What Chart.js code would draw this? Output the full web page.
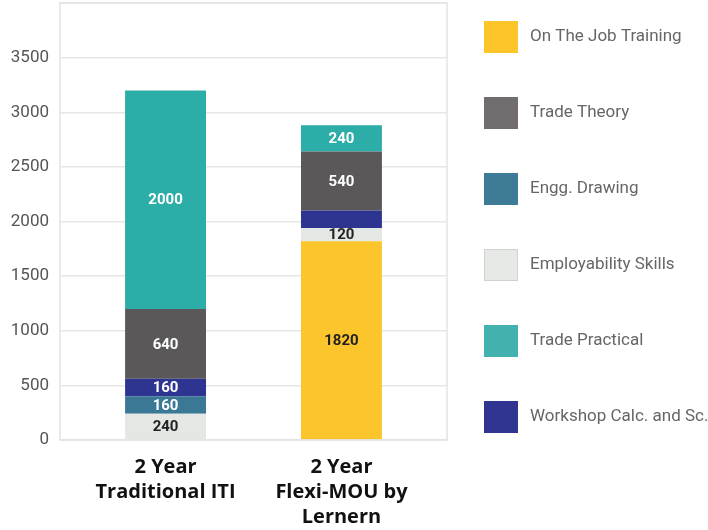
<!DOCTYPE html>
<html>
<head>
<meta charset="utf-8">
<script src="https://cdn.jsdelivr.net/npm/chart.js@4/dist/chart.umd.min.js"></script>
<style>
  html, body { margin: 0; padding: 0; background: #fff; }
  #wrap { position: relative; width: 708px; height: 530px; }
</style>
</head>
<body>
<div id="wrap"><canvas id="chart" width="708" height="530"></canvas></div>
<script>
/* Stacked hours chart */
const categories = [['2 Year', 'Traditional ITI'], ['2 Year', 'Flexi-MOU by', 'Lernern']];
const xPositions = [0, 1];

const onTheJob = [0, 1820];
const employability = [240, 120];
const enggDrawing = [160, 0];
const workshopCalc = [160, 160];
const tradeTheory = [640, 540];
const tradePractical = [2000, 240];

const yTicks = [0, 500, 1000, 1500, 2000, 2500, 3000, 3500];
const legendOrder = ['On The Job Training', 'Trade Theory', 'Engg. Drawing', 'Employability Skills', 'Trade Practical', 'Workshop Calc. and Sc.'];
// segments drawn without a value label: [series, bar index]
const hiddenLabels = [['Workshop Calc. and Sc.', 1]];

const series = [
    { label: 'On The Job Training', values: onTheJob, color: '#FCC52B', legend: '#FDC52A', text: '#222' },
    { label: 'Employability Skills', values: employability, color: '#E4E8E5', legend: '#E6E9E6', text: '#222' },
    { label: 'Engg. Drawing', values: enggDrawing, color: '#3B7895', legend: '#3D7B97', text: '#fff' },
    { label: 'Workshop Calc. and Sc.', values: workshopCalc, color: '#2E3590', legend: '#2F3590', text: '#fff' },
    { label: 'Trade Theory', values: tradeTheory, color: '#5A5858', legend: '#716D6E', text: '#fff' },
    { label: 'Trade Practical', values: tradePractical, color: '#2DADA8', legend: '#43B1AE', text: '#fff' },
];

const FONT = 'Roboto, "Noto Sans", sans-serif';

// value labels in the middle of each segment
const segmentLabels = {
    id: 'segmentLabels',
    afterDatasetsDraw(chart) {
        const ctx = chart.ctx;
        ctx.save();
        ctx.font = 'bold 15px ' + FONT;
        ctx.textAlign = 'center';
        ctx.textBaseline = 'middle';
        chart.data.datasets.forEach((ds, di) => {
            const meta = chart.getDatasetMeta(di);
            meta.data.forEach((bar, i) => {
                const v = ds.data[i].y;
                if (!v) return;
                if (hiddenLabels.some(h => h[0] === ds.label && h[1] === i)) return;
                ctx.fillStyle = series[di].text;
                ctx.fillText(String(v), bar.x, (bar.y + bar.base) / 2 + 1);
            });
        });
        ctx.restore();
    }
};

// plot frame + legend on the right
const frameAndLegend = {
    id: 'frameAndLegend',
    afterDraw(chart) {
        const ctx = chart.ctx;
        const a = chart.chartArea;
        ctx.save();
        ctx.strokeStyle = '#e3e3e3';
        ctx.lineWidth = 1.5;
        ctx.strokeRect(a.left, a.top, a.right - a.left, a.bottom - a.top);

        ctx.font = '17px ' + FONT;
        ctx.textBaseline = 'middle';
        ctx.textAlign = 'left';
        legendOrder.forEach((name, k) => {
            const s = series.find(x => x.label === name);
            const cy = 37 + k * 76;
            ctx.fillStyle = s.legend;
            ctx.fillRect(484, cy - 16, 34, 32);
            if (name === 'Employability Skills') {
                ctx.strokeStyle = '#cfd2cf';
                ctx.lineWidth = 1;
                ctx.strokeRect(484.5, cy - 15.5, 33, 31);
            }
            ctx.fillStyle = '#666';
            ctx.fillText(name, 530, cy);
        });
        ctx.restore();
    }
};

new Chart(document.getElementById('chart'), {
    type: 'bar',
    data: {
        datasets: series.map(s => ({
            label: s.label,
            data: xPositions.map((x, i) => ({ x: x, y: s.values[i] })),
            backgroundColor: s.color,
            borderWidth: 0,
            barPercentage: 0.46,
            categoryPercentage: 1,
        }))
    },
    options: {
        responsive: false,
        animation: false,
        layout: { padding: { top: 3, right: 261, left: 0, bottom: 0 } },
        plugins: {
            legend: { display: false },
            tooltip: { enabled: false }
        },
        scales: {
            x: {
                type: 'linear',
                stacked: true,
                offset: false,
                min: -0.6,
                max: 1.6,
                afterBuildTicks: s => { s.ticks = xPositions.map(v => ({ value: v })); },
                afterFit: s => { s.height = 90; s.paddingLeft = 0; s.paddingRight = 0; },
                grid: { display: false, drawTicks: false },
                border: { display: false },
                ticks: {
                    padding: 15,
                    color: '#111',
                    font: { family: '"Open Sans", sans-serif', size: 20, weight: '700', lineHeight: 1.25 },
                    maxRotation: 0,
                    callback: v => categories[v] || ''
                }
            },
            y: {
                stacked: true,
                min: 0,
                max: 4000,
                afterBuildTicks: s => { s.ticks = yTicks.concat([4000]).map(v => ({ value: v })); },
                afterFit: s => { s.width = 60; s.paddingTop = 0; s.paddingBottom = 0; },
                grid: { color: '#e6e6e6', lineWidth: 1.5, drawTicks: false },
                border: { display: false },
                ticks: {
                    padding: 11,
                    color: '#555',
                    font: { family: FONT, size: 17 },
                    callback: v => yTicks.includes(v) ? v : ''
                }
            }
        }
    },
    plugins: [segmentLabels, frameAndLegend]
});
</script>
</body>
</html>
